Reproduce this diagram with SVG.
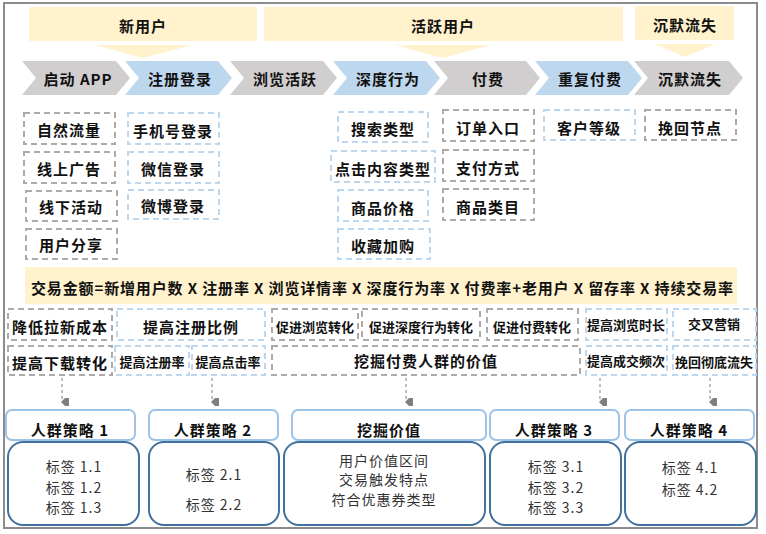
<svg xmlns="http://www.w3.org/2000/svg" width="766" height="534" viewBox="0 0 766 534">
<style>
text{font-family:"Noto Sans CJK SC","Liberation Serif",sans-serif;fill:#111;text-anchor:middle;dominant-baseline:central}
.t{font-size:15px;font-weight:bold;letter-spacing:1px}
.s{font-size:13px;font-weight:bold}
.n{font-size:14px;fill:#333;letter-spacing:1px}
.band{fill:#fff2cc}
.g{fill:#d0cece}.b{fill:#bdd7ee}
.dg{fill:#fff;stroke:#aeaaaa;stroke-width:2;stroke-dasharray:6,4}
.db{fill:#fff;stroke:#bdd7ee;stroke-width:2;stroke-dasharray:6,4}
.h{fill:#fff;stroke:#9dc3e6;stroke-width:2}
.bx{fill:#fff;stroke:#41719c;stroke-width:2}
.c{stroke:#7f7f7f;stroke-width:1;stroke-dasharray:3,3;fill:none}
</style>
<defs><marker id="ar" markerWidth="8" markerHeight="8" refX="4" refY="7" orient="auto" markerUnits="userSpaceOnUse"><path d="M-4,0 L12,0 L4,8 Z" fill="#7f7f7f"/></marker></defs>
<rect x="4" y="3" width="753" height="525" fill="#fff" stroke="#8c8c8c" stroke-width="2"/>
<g id="bands">
<rect class="band" x="29" y="7" width="228" height="34"/><text class="t" x="143" y="25">新用户</text>
<path class="band" d="M95,45 H192 L143,58 Z"/>
<rect class="band" x="264" y="7" width="359" height="34"/><text class="t" x="443" y="25">活跃用户</text>
<path class="band" d="M395,45 H491 L443,58 Z"/>
<rect class="band" x="635" y="6" width="99" height="34"/><text class="t" x="685" y="24">沉默流失</text>
<path class="band" d="M655,44 H715 L685,57 Z"/>
</g>
<g id="chevrons">
<path class="g" d="M22,61 H116 L130,78 L116,95 H22 L36,78 Z"/><text class="t" x="78" y="78">启动 APP</text>
<path class="b" d="M125,61 H218 L232,78 L218,95 H125 L139,78 Z"/><text class="t" x="180" y="78">注册登录</text>
<path class="g" d="M230,61 H323 L337,78 L323,95 H230 L244,78 Z"/><text class="t" x="285" y="78">浏览活跃</text>
<path class="b" d="M333,61 H426 L440,78 L426,95 H333 L347,78 Z"/><text class="t" x="388" y="78">深度行为</text>
<path class="g" d="M434,61 H526 L540,78 L526,95 H434 L448,78 Z"/><text class="t" x="488" y="78">付费</text>
<path class="b" d="M535,61 H628 L642,78 L628,95 H535 L549,78 Z"/><text class="t" x="590" y="78">重复付费</text>
<path class="g" d="M634,61 H729 L743,78 L729,95 H634 L648,78 Z"/><text class="t" x="690" y="78">沉默流失</text>
</g>
<g id="items">
<rect class="dg" x="24" y="113" width="91" height="31"/><text class="t" x="69" y="129">自然流量</text>
<rect class="dg" x="24" y="152" width="91" height="31"/><text class="t" x="69" y="168">线上广告</text>
<rect class="dg" x="26" y="191" width="91" height="30"/><text class="t" x="71" y="206">线下活动</text>
<rect class="dg" x="26" y="229" width="91" height="30"/><text class="t" x="71" y="244">用户分享</text>
<rect class="db" x="128" y="113" width="91" height="31"/><text class="t" x="173" y="130">手机号登录</text>
<rect class="db" x="128" y="152" width="91" height="31"/><text class="t" x="173" y="168">微信登录</text>
<rect class="db" x="128" y="190" width="91" height="29"/><text class="t" x="173" y="205">微博登录</text>
<rect class="db" x="338" y="112" width="90" height="30"/><text class="t" x="383" y="128">搜索类型</text>
<rect class="db" x="331" y="151" width="104" height="31"/><text class="t" x="383" y="168">点击内容类型</text>
<rect class="db" x="338" y="190" width="90" height="31"/><text class="t" x="383" y="207">商品价格</text>
<rect class="db" x="338" y="229" width="92" height="30"/><text class="t" x="383" y="245">收藏加购</text>
<rect class="dg" x="443" y="110" width="91" height="31"/><text class="t" x="488" y="127">订单入口</text>
<rect class="dg" x="443" y="150" width="91" height="31"/><text class="t" x="488" y="167">支付方式</text>
<rect class="dg" x="443" y="189" width="91" height="31"/><text class="t" x="488" y="206">商品类目</text>
<rect class="db" x="544" y="110" width="91" height="30"/><text class="t" x="589" y="127">客户等级</text>
<rect class="dg" x="645" y="110" width="91" height="30"/><text class="t" x="690" y="127">挽回节点</text>
</g>
<g id="formula">
<rect class="band" x="25" y="267" width="712" height="37"/>
<text class="t" x="382" y="287" textLength="702" lengthAdjust="spacing" style="letter-spacing:0">交易金额=新增用户数 X 注册率 X 浏览详情率 X 深度行为率 X 付费率+老用户 X 留存率 X 持续交易率</text>
</g>
<g id="tactics">
<rect class="dg" x="8" y="309" width="104" height="31"/><text class="t" x="60" y="326">降低拉新成本</text>
<rect class="db" x="117" y="309" width="148" height="31"/><text class="t" x="191" y="326">提高注册比例</text>
<rect class="dg" x="272" y="309" width="86" height="31"/><text class="s" x="315" y="326">促进浏览转化</text>
<rect class="dg" x="362" y="309" width="118" height="31"/><text class="s" x="421" y="326">促进深度行为转化</text>
<rect class="dg" x="487" y="309" width="91" height="31"/><text class="s" x="532" y="326">促进付费转化</text>
<rect class="db" x="586" y="309" width="81" height="31"/><text class="s" x="626" y="324">提高浏览时长</text>
<rect class="db" x="673" y="309" width="83" height="31"/><text class="s" x="714" y="323">交叉营销</text>
<rect class="dg" x="8" y="346" width="104" height="29"/><text class="t" x="60" y="362">提高下载转化</text>
<rect class="db" x="115" y="346" width="74" height="29"/><text class="s" x="152" y="361">提高注册率</text>
<rect class="db" x="192" y="346" width="73" height="29"/><text class="s" x="228" y="361">提高点击率</text>
<rect class="dg" x="272" y="346" width="308" height="29"/><text class="t" x="426" y="360">挖掘付费人群的价值</text>
<rect class="db" x="586" y="346" width="81" height="29"/><text class="s" x="626" y="360">提高成交频次</text>
<rect class="db" x="673" y="346" width="83" height="29"/><text class="s" x="714" y="361">挽回彻底流失</text>
</g>
<g id="connectors">
<path class="c" d="M62,378 V402" marker-end="url(#ar)"/>
<path class="c" d="M212,378 V402" marker-end="url(#ar)"/>
<path class="c" d="M406,378 V402" marker-end="url(#ar)"/>
<path class="c" d="M600,378 V402" marker-end="url(#ar)"/>
<path class="c" d="M710,378 V402" marker-end="url(#ar)"/>
</g>
<g id="strategies">
<rect class="h" x="6" y="410" width="129" height="30" rx="6"/><text class="t" x="70" y="429">人群策略 1</text>
<rect class="h" x="149" y="410" width="129" height="30" rx="6"/><text class="t" x="213" y="429">人群策略 2</text>
<rect class="h" x="292" y="410" width="194" height="30" rx="6"/><text class="t" x="389" y="429">挖掘价值</text>
<rect class="h" x="490" y="410" width="129" height="30" rx="6"/><text class="t" x="554" y="429">人群策略 3</text>
<rect class="h" x="625" y="410" width="129" height="30" rx="6"/><text class="t" x="689" y="429">人群策略 4</text>
</g>
<g id="tags">
<rect class="bx" x="8" y="442" width="131" height="83" rx="15"/>
<text class="n" x="74" y="466">标签 1.1</text><text class="n" x="74" y="487">标签 1.2</text><text class="n" x="74" y="507">标签 1.3</text>
<rect class="bx" x="149" y="442" width="130" height="83" rx="15"/>
<text class="n" x="214" y="474">标签 2.1</text><text class="n" x="214" y="504">标签 2.2</text>
<rect class="bx" x="284" y="442" width="201" height="83" rx="15"/>
<text class="n" x="384" y="460">用户价值区间</text><text class="n" x="384" y="479">交易触发特点</text><text class="n" x="384" y="499">符合优惠券类型</text>
<rect class="bx" x="490" y="442" width="131" height="83" rx="15"/>
<text class="n" x="556" y="466">标签 3.1</text><text class="n" x="556" y="487">标签 3.2</text><text class="n" x="556" y="507">标签 3.3</text>
<rect class="bx" x="625" y="442" width="131" height="83" rx="15"/>
<text class="n" x="690" y="467">标签 4.1</text><text class="n" x="690" y="489">标签 4.2</text>
</g>
</svg>
